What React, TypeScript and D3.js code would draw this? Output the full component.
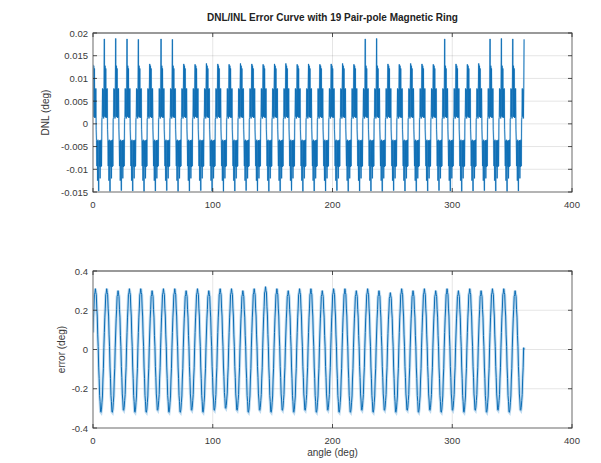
import React, { useEffect, useRef } from 'react';
import * as d3 from 'd3';

const titleText = 'DNL/INL Error Curve with 19 Pair-pole Magnetic Ring';
const xTicks = [0, 100, 200, 300, 400];
const dnlTicks = [-0.015, -0.01, -0.005, 0, 0.005, 0.01, 0.015, 0.02];
const dnlTickLabels = ['-0.015', '-0.01', '-0.005', '0', '0.005', '0.01', '0.015', '0.02'];
const errTicks = [-0.4, -0.2, 0, 0.2, 0.4];
const errTickLabels = ['-0.4', '-0.2', '0', '0.2', '0.4'];

// 19 pole pairs -> 38 electrical cycles over 360 deg
const cycles = 38;

// DNL spike tops, one per cycle start (last one sits at 360 deg)
const dnlPeaks = [
  0.0130, 0.0187, 0.0188, 0.0187, 0.0186, 0.0132, 0.0187, 0.0186, 0.0132, 0.0131,
  0.0133, 0.0132, 0.0131, 0.0133, 0.0132, 0.0131, 0.0132, 0.0133, 0.0131, 0.0132,
  0.0131, 0.0132, 0.0133, 0.0131, 0.0187, 0.0188, 0.0132, 0.0131, 0.0133, 0.0132,
  0.0131, 0.0187, 0.0132, 0.0131, 0.0133, 0.0187, 0.0188, 0.0187, 0.0186,
];
// DNL spike bottoms, one per cycle
const dnlTroughs = [
  -0.0148, -0.0149, -0.0147, -0.0148, -0.0149, -0.0148, -0.0147, -0.0149, -0.0148, -0.0147,
  -0.0148, -0.0149, -0.0148, -0.0147, -0.0148, -0.0149, -0.0148, -0.0147, -0.0149, -0.0148,
  -0.0148, -0.0147, -0.0149, -0.0148, -0.0148, -0.0149, -0.0147, -0.0148, -0.0149, -0.0148,
  -0.0147, -0.0148, -0.0149, -0.0148, -0.0147, -0.0148, -0.0149, -0.0148,
];
// samples inside one cycle (index 0 = spike top, index 16 = spike bottom)
const dnlCycle = [
  NaN, 0.0016, 0.0128, 0.0015, 0.0122, 0.0013, 0.0077, 0.0014, 0.0078,
  -0.0012, -0.0036, -0.0093, -0.0037, -0.0125, -0.0035, -0.0094,
  NaN, -0.0038, -0.0094, -0.0036, -0.0120, -0.0037, -0.0095, -0.0035, -0.0093,
  0.0010, 0.0014, 0.0078, 0.0016, 0.0076, 0.0012, 0.0079,
];

// INL error: positive / negative extremes per cycle
const errPeaks = [
  0.31, 0.31, 0.30, 0.31, 0.31, 0.30, 0.31, 0.31, 0.30, 0.31,
  0.30, 0.31, 0.31, 0.30, 0.31, 0.32, 0.31, 0.30, 0.31, 0.31,
  0.30, 0.31, 0.31, 0.30, 0.31, 0.30, 0.29, 0.31, 0.30, 0.31,
  0.30, 0.31, 0.30, 0.31, 0.30, 0.31, 0.31, 0.30,
];
const errTroughs = [
  -0.32, -0.32, -0.31, -0.32, -0.32, -0.31, -0.32, -0.32, -0.31, -0.32,
  -0.31, -0.30, -0.31, -0.32, -0.31, -0.32, -0.31, -0.32, -0.31, -0.32,
  -0.31, -0.32, -0.32, -0.31, -0.32, -0.31, -0.32, -0.31, -0.32, -0.31,
  -0.32, -0.31, -0.32, -0.31, -0.32, -0.31, -0.32, -0.31,
];
// shape of one cycle (relative to the extremes), with the small ripple
const errCycle = [
  0.28, 0.52, 0.68, 0.90, 0.93, 1.0, 0.94, 0.90, 0.68, 0.55, 0.24, 0.05,
  -0.28, -0.46, -0.73, -0.83, -0.99, -1.0, -0.95, -0.84, -0.74, -0.47, -0.30, 0.03,
];
const errEnd = 0.0;

const W = 601;
const H = 463;
const plotLeft = 93;
const plotRight = 572;
const topPanel = { top: 33, bottom: 192 };
const botPanel = { top: 271, bottom: 428 };
const lineColor = '#0a6cb4';
const haloColor = '#8dbde3';
const font = '"Liberation Sans", Arial, Helvetica, sans-serif';

const App = () => {
  const ref = useRef<SVGSVGElement>(null);

  useEffect(() => {
    const svg = d3.select(ref.current);
    svg.selectAll('*').remove();

    const period = 360 / cycles;
    const n = dnlCycle.length;
    const peakAt = 0;
    const troughAt = 16;

    const dnlData: [number, number][] = [];
    for (let c = 0; c < cycles; c++) {
      dnlCycle.forEach((v, i) => {
        let val = v;
        if (i === peakAt) val = dnlPeaks[c];
        if (i === troughAt) val = dnlTroughs[c];
        dnlData.push([(c + i / n) * period, val]);
      });
    }
    dnlData.push([360, dnlPeaks[cycles]]);

    const errData: [number, number][] = [];
    for (let c = 0; c < cycles; c++) {
      errCycle.forEach((v, i) => {
        const amp = v >= 0 ? errPeaks[c] : -errTroughs[c];
        errData.push([(c + i / errCycle.length) * period, v * amp]);
      });
    }
    errData.push([360, errEnd]);

    const x = d3.scaleLinear().domain([0, 400]).range([plotLeft, plotRight]);

    const panel = (
      id: string,
      p: { top: number; bottom: number },
      y: d3.ScaleLinear<number, number>,
      ticks: number[],
      labels: string[],
      ylabel: string,
      ylabelX: number,
      data: [number, number][],
      lw: number,
      halo: number,
    ) => {
      const g = svg.append('g');
      g.append('rect')
        .attr('x', plotLeft).attr('y', p.top)
        .attr('width', plotRight - plotLeft).attr('height', p.bottom - p.top)
        .attr('fill', '#fff');

      // grid
      g.selectAll('.gx').data(xTicks).enter().append('line')
        .attr('x1', (d) => x(d)).attr('x2', (d) => x(d))
        .attr('y1', p.top).attr('y2', p.bottom)
        .attr('stroke', '#262626').attr('stroke-opacity', 0.15).attr('stroke-width', 0.8);
      g.selectAll('.gy').data(ticks).enter().append('line')
        .attr('x1', plotLeft).attr('x2', plotRight)
        .attr('y1', (d) => y(d)).attr('y2', (d) => y(d))
        .attr('stroke', '#262626').attr('stroke-opacity', 0.15).attr('stroke-width', 0.8);

      svg.append('clipPath').attr('id', id)
        .append('rect')
        .attr('x', plotLeft).attr('y', p.top)
        .attr('width', plotRight - plotLeft).attr('height', p.bottom - p.top);

      const line = d3.line<[number, number]>().x((d) => x(d[0])).y((d) => y(d[1]));
      if (halo > 0) {
        g.append('path')
          .attr('d', line(data))
          .attr('clip-path', `url(#${id})`)
          .attr('fill', 'none')
          .attr('stroke', haloColor)
          .attr('stroke-opacity', 0.55)
          .attr('stroke-width', halo);
      }
      g.append('path')
        .attr('d', line(data))
        .attr('clip-path', `url(#${id})`)
        .attr('fill', 'none')
        .attr('stroke', lineColor)
        .attr('stroke-width', lw);

      // box
      g.append('rect')
        .attr('x', plotLeft).attr('y', p.top)
        .attr('width', plotRight - plotLeft).attr('height', p.bottom - p.top)
        .attr('fill', 'none').attr('stroke', '#8a8a8a').attr('stroke-width', 1.2);
      g.append('line')
        .attr('x1', plotLeft).attr('x2', plotRight)
        .attr('y1', p.top).attr('y2', p.top)
        .attr('stroke', '#999').attr('stroke-width', 2);

      // inward ticks on all four sides
      const tl = 4;
      xTicks.forEach((t) => {
        g.append('line').attr('x1', x(t)).attr('x2', x(t))
          .attr('y1', p.bottom).attr('y2', p.bottom - tl).attr('stroke', '#262626').attr('stroke-width', 0.8);
        g.append('line').attr('x1', x(t)).attr('x2', x(t))
          .attr('y1', p.top).attr('y2', p.top + tl).attr('stroke', '#262626').attr('stroke-width', 0.8);
      });
      ticks.forEach((t) => {
        g.append('line').attr('x1', plotLeft).attr('x2', plotLeft + tl)
          .attr('y1', y(t)).attr('y2', y(t)).attr('stroke', '#262626').attr('stroke-width', 0.8);
        g.append('line').attr('x1', plotRight).attr('x2', plotRight - tl)
          .attr('y1', y(t)).attr('y2', y(t)).attr('stroke', '#262626').attr('stroke-width', 0.8);
      });

      // tick labels
      g.selectAll('.xl').data(xTicks).enter().append('text')
        .attr('x', (d) => x(d)).attr('y', p.bottom + 16)
        .attr('text-anchor', 'middle')
        .attr('font-family', font).attr('font-size', 9.5).attr('fill', '#3a3a3a')
        .text((d) => String(d));
      g.selectAll('.yl').data(ticks).enter().append('text')
        .attr('x', plotLeft - 5).attr('y', (d) => y(d) + 3.5)
        .attr('text-anchor', 'end')
        .attr('font-family', font).attr('font-size', 9.5).attr('fill', '#3a3a3a')
        .text((d, i) => labels[i]);

      const cy = (p.top + p.bottom) / 2;
      g.append('text')
        .attr('transform', `translate(${ylabelX},${cy}) rotate(-90)`)
        .attr('text-anchor', 'middle')
        .attr('font-family', font).attr('font-size', 10).attr('fill', '#3a3a3a')
        .text(ylabel);
    };

    const yTop = d3.scaleLinear().domain([-0.015, 0.02]).range([topPanel.bottom, topPanel.top]);
    const yBot = d3.scaleLinear().domain([-0.4, 0.4]).range([botPanel.bottom, botPanel.top]);

    panel('clipTop', topPanel, yTop, dnlTicks, dnlTickLabels, 'DNL (deg)', 49, dnlData, 0.8, 1.8);
    panel('clipBot', botPanel, yBot, errTicks, errTickLabels, 'error (deg)', 65, errData, 1.0, 3);

    svg.append('text')
      .attr('x', (plotLeft + plotRight) / 2).attr('y', 21)
      .attr('text-anchor', 'middle')
      .attr('font-family', font).attr('font-size', 10).attr('font-weight', 'bold').attr('fill', '#222')
      .text(titleText);

    svg.append('text')
      .attr('x', (plotLeft + plotRight) / 2).attr('y', botPanel.bottom + 28)
      .attr('text-anchor', 'middle')
      .attr('font-family', font).attr('font-size', 10).attr('fill', '#3a3a3a')
      .text('angle (deg)');

    return () => {
      svg.selectAll('*').remove();
    };
  }, []);

  return (
    <svg
      ref={ref}
      width={W}
      height={H}
      style={{ position: 'absolute', left: 0, top: 0, background: '#fff' }}
    />
  );
};

export default App;
